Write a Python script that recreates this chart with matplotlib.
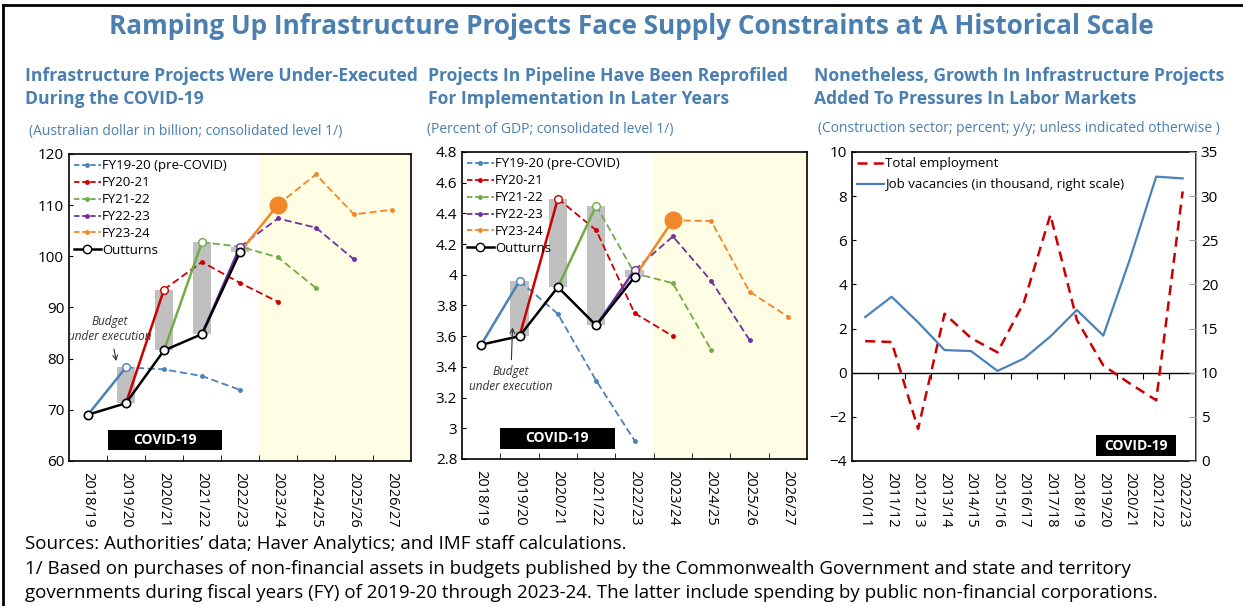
# Infrastructure projects, budgets vs outturns and labour market pressures

import numpy as np
import matplotlib.pyplot as plt
from matplotlib.patches import Rectangle
from matplotlib.lines import Line2D

plt.rcParams['font.family'] = ['Open Sans', 'DejaVu Sans']

nan = np.nan

# --- Data -------------------------------------------------------------
years_fy = ['2018/19', '2019/20', '2020/21', '2021/22', '2022/23',
            '2023/24', '2024/25', '2025/26', '2026/27']
vintage_names = ['FY19-20 (pre-COVID)', 'FY20-21', 'FY21-22', 'FY22-23', 'FY23-24']

# Panel 1: Australian dollar in billion
outturns_aud = [69.05, 71.3, 81.6, 84.8, 100.8]
fy1920_aud = [nan, 78.3, 77.9, 76.6, 73.9, nan, nan, nan, nan]
fy2021_aud = [nan, nan, 93.5, 98.9, 94.8, 91.1, nan, nan, nan]
fy2122_aud = [nan, nan, nan, 102.75, 101.9, 99.8, 93.8, nan, nan]
fy2223_aud = [nan, nan, nan, nan, 101.85, 107.4, 105.6, 99.4, nan]
fy2324_aud = [nan, nan, nan, nan, nan, 110.1, 116.0, 108.2, 109.1]

# Panel 2: percent of GDP
outturns_gdp = [3.545, 3.60, 3.92, 3.67, 3.985]
fy1920_gdp = [nan, 3.96, 3.745, 3.31, 2.92, nan, nan, nan, nan]
fy2021_gdp = [nan, nan, 4.496, 4.29, 3.75, 3.60, nan, nan, nan]
fy2122_gdp = [nan, nan, nan, 4.45, 4.01, 3.945, 3.51, nan, nan]
fy2223_gdp = [nan, nan, nan, nan, 4.03, 4.25, 3.96, 3.575, nan]
fy2324_gdp = [nan, nan, nan, nan, nan, 4.355, 4.35, 3.89, 3.727]

# Panel 3: construction sector
years_cons = ['2010/11', '2011/12', '2012/13', '2013/14', '2014/15', '2015/16',
              '2016/17', '2017/18', '2018/19', '2019/20', '2020/21', '2021/22',
              '2022/23']
total_employment = [1.43, 1.39, -2.55, 2.67, 1.57, 0.92, 3.19, 7.15, 2.39,
                    0.33, -0.49, -1.25, 8.21]
job_vacancies = [16.3, 18.6, 15.7, 12.56, 12.45, 10.2, 11.6, 14.1, 17.1,
                 14.2, 22.8, 32.2, 32.0]

# --- Styles -----------------------------------------------------------
vintage_colors = ['#4a82b8', '#cc0000', '#70ad47', '#7030a0', '#f0882a']
title_color = '#4a7fb0'
shade_color = '#fffde3'
bar_color = '#c0c0c0'

fig = plt.figure(figsize=(12.43, 6.06), dpi=100)


def draw_budget_panel(ax, outturns, vintages, ylim, yticks, ytick_labels,
                      covid_box, note_text_xy, note_arrow_xy):
    x = np.arange(len(years_fy))
    ax.axvspan(4.5, 8.5, color=shade_color, zorder=0, lw=0)
    for k, (vals, c) in enumerate(zip(vintages, vintage_colors)):
        b = k + 1
        vals = np.array(vals, dtype=float)
        # projections of the budget vintage
        ax.plot(x[b:], vals[b:], color=c, ls=(0, (4, 2)), lw=1.3,
                marker='o', ms=2.5, zorder=3)
        # move from last outturn to the budget
        ax.plot([b - 1, b], [outturns[b - 1], vals[b]], color=c, lw=1.8, zorder=4)
        if b < len(outturns):
            lo = min(outturns[b], vals[b])
            ax.bar(b, abs(vals[b] - outturns[b]), bottom=lo, width=0.48,
                   color=bar_color, zorder=1)
            ax.plot(b, vals[b], marker='o', ms=5.5, mfc='white', mec=c, mew=1,
                    zorder=5)
        else:
            ax.plot(b, vals[b], marker='o', ms=12, color=c, zorder=5)
    ax.plot(x[:len(outturns)], outturns, color='black', lw=1.8, marker='o',
            ms=6, mfc='white', mec='black', mew=1.2, zorder=6)

    ax.set_xlim(-0.5, 8.5)
    ax.set_ylim(*ylim)
    ax.set_yticks(yticks)
    ax.set_yticklabels(ytick_labels)
    ax.set_xticks(x)
    ax.set_xticklabels(years_fy, rotation=270)
    ax.set_xticks(np.arange(0.5, 8.5, 1), minor=True)
    ax.tick_params(axis='x', which='major', length=0, labelsize=10.5, pad=8)
    ax.tick_params(axis='x', which='minor', direction='in', length=4)
    ax.tick_params(axis='y', direction='in', length=3, labelsize=11)
    for s in ax.spines.values():
        s.set_linewidth(1.2)

    # COVID-19 box
    x0, y0, w, h = covid_box
    ax.add_patch(Rectangle((x0, y0), w, h, facecolor='black', zorder=7))
    ax.text(x0 + w / 2, y0 + h / 2, 'COVID-19', color='white', fontsize=10,
            fontweight='bold', ha='center', va='center', zorder=8)

    ax.annotate('Budget\nunder execution', xy=note_arrow_xy, xytext=note_text_xy,
                fontsize=8.5, style='italic', color='#333333', ha='center',
                va='center', arrowprops=dict(arrowstyle='->', color='#333333',
                                             lw=0.8),
                zorder=8)

    handles = [Line2D([], [], color=c, ls=(0, (3, 1.5)), lw=1.3, marker='o', ms=2.5)
               for c in vintage_colors]
    handles.append(Line2D([], [], color='black', lw=1.8, marker='o', ms=6,
                          mfc='white', mec='black'))
    ax.legend(handles, vintage_names + ['Outturns'], loc='upper left',
              frameon=False, fontsize=9.5, handlelength=2.0, handletextpad=0.1,
              labelspacing=0.3, borderaxespad=0.2, borderpad=0.2)


# Panel 1
ax1 = fig.add_axes([0.0555, 0.2393, 0.2751, 0.5066])
draw_budget_panel(ax1, outturns_aud,
                  [fy1920_aud, fy2021_aud, fy2122_aud, fy2223_aud, fy2324_aud],
                  (60, 120), np.arange(60, 121, 10),
                  [str(v) for v in range(60, 121, 10)],
                  (0.52, 62.1, 3.02, 3.9),
                  (0.58, 85.7), (0.76, 79.0))

# Panel 2
ax2 = fig.add_axes([0.3717, 0.2426, 0.2776, 0.5066])
draw_budget_panel(ax2, outturns_gdp,
                  [fy1920_gdp, fy2021_gdp, fy2122_gdp, fy2223_gdp, fy2324_gdp],
                  (2.8, 4.8), np.arange(2.8, 4.81, 0.2),
                  ['2.8', '3', '3.2', '3.4', '3.6', '3.8', '4', '4.2', '4.4',
                   '4.6', '4.8'],
                  (0.48, 2.867, 3.0, 0.137),
                  (0.77, 3.32), (0.82, 3.675))

# Panel 3
ax3 = fig.add_axes([0.6854, 0.2393, 0.2767, 0.51])
xc = np.arange(len(years_cons))
ax3r = ax3.twinx()
ax3.plot(xc, total_employment, color='#cc0000', ls=(0, (4, 2.5)), lw=1.8,
         zorder=3, label='Total employment')
ax3r.plot(xc, job_vacancies, color='#4a82b8', lw=1.6, zorder=3,
          label='Job vacancies (in thousand, right scale)')
ax3.axhline(0, color='black', lw=1.0, zorder=2)
ax3.set_xlim(-0.5, len(years_cons) - 0.5)
ax3.set_ylim(-4, 10)
ax3.set_yticks(np.arange(-4, 11, 2))
ax3r.set_ylim(0, 35)
ax3r.set_yticks(np.arange(0, 36, 5))
ax3.set_xticks(xc)
ax3.set_xticklabels(years_cons, rotation=270)
ax3.tick_params(axis='x', length=0, labelsize=10.5, pad=8)
ax3.tick_params(axis='y', direction='in', length=3, labelsize=11)
ax3r.tick_params(axis='y', direction='in', length=5, labelsize=11,
                 color='#999999')
for s in ax3.spines.values():
    s.set_linewidth(1.2)
ax3r.spines['right'].set_color('#999999')
ax3r.spines['left'].set_visible(False)
ax3r.spines['top'].set_visible(False)
ax3r.spines['bottom'].set_visible(False)

# tick marks on the zero line, between the years
sec = ax3.secondary_xaxis(4 / 14)
sec.set_xticks(np.arange(0.5, len(years_cons) - 0.5, 1))
sec.tick_params(length=4, direction='out', labelbottom=False, labeltop=False)
sec.spines['bottom'].set_visible(False)
sec.spines['top'].set_visible(False)

ax3.add_patch(Rectangle((8.72, -3.79), 3.02, 0.95, facecolor='black', zorder=7))
ax3.text(8.72 + 1.51, -3.79 + 0.475, 'COVID-19', color='white', fontsize=10,
         fontweight='bold', ha='center', va='center', zorder=8)

h1, l1 = ax3.get_legend_handles_labels()
h2, l2 = ax3r.get_legend_handles_labels()
ax3r.legend(h1 + h2, l1 + l2, loc='upper left', frameon=False, fontsize=9.5,
            handlelength=2.0, handletextpad=0.1, labelspacing=0.6,
            borderaxespad=0.2, borderpad=0.2)

# --- Texts ------------------------------------------------------------
fig.text(0.508, 1 - 27 / 606,
         'Ramping Up Infrastructure Projects Face Supply Constraints at A Historical Scale',
         ha='center', va='center', fontsize=18.8, fontweight='bold', color=title_color)

subtitles = ['Infrastructure Projects Were Under-Executed\nDuring the COVID-19',
             'Projects In Pipeline Have Been Reprofiled\nFor Implementation In Later Years',
             'Nonetheless, Growth In Infrastructure Projects\nAdded To Pressures In Labor Markets']
for xs, s in zip([25, 428, 814], subtitles):
    fig.text(xs / 1243, 1 - 87.5 / 606, s, ha='left', va='center', fontsize=12.6,
             fontweight='bold', color=title_color, linespacing=1.4)

units = ['(Australian dollar in billion; consolidated level 1/)',
         '(Percent of GDP; consolidated level 1/)',
         '(Construction sector; percent; y/y; unless indicated otherwise )']
for xs, ys, s in zip([29, 427, 818], [131, 129, 129], units):
    fig.text(xs / 1243, 1 - ys / 606, s, ha='left', va='center', fontsize=10,
             color=title_color)

notes = ['Sources: Authorities\u2019 data; Haver Analytics; and IMF staff calculations.',
         '1/ Based on purchases of non-financial assets in budgets published by the Commonwealth Government and state and territory',
         'governments during fiscal years (FY) of 2019-20 through 2023-24. The latter include spending by public non-financial corporations.']
for ys, s in zip([544, 569, 593], notes):
    fig.text(25 / 1243, 1 - ys / 606, s, ha='left', va='center', fontsize=13.5,
             color='black')

# frame around the figure (left and top)
fig.add_artist(Line2D([3 / 1243, 3 / 1243], [0, 1 - 5 / 606], color='black', lw=2))
fig.add_artist(Line2D([3 / 1243, 1], [1 - 5 / 606, 1 - 5 / 606], color='black', lw=2))

fig.savefig('out.png', dpi=100)
